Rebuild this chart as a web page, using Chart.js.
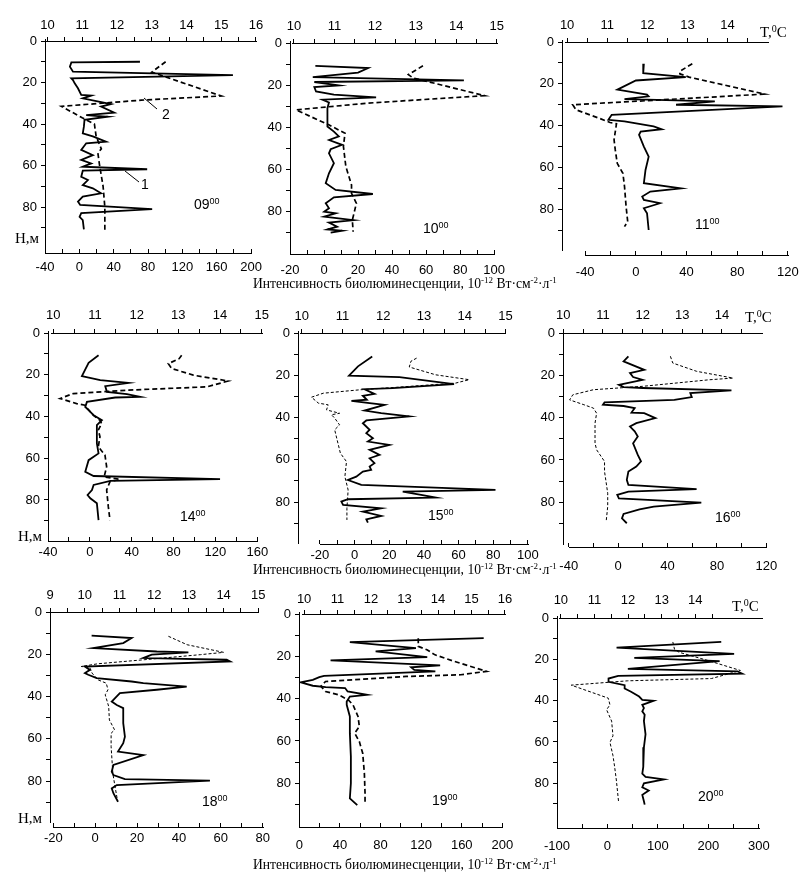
<!DOCTYPE html>
<html>
<head>
<meta charset="utf-8">
<script src="https://cdn.jsdelivr.net/npm/chart.js@4.4.1/dist/chart.umd.min.js"></script>
<style>
  body { margin: 0; background: #fff; }
  #page { position: relative; width: 808px; height: 877px; overflow: hidden; font-family: 'Liberation Sans', Arial, sans-serif; }
  canvas { position: absolute; }
  .t { position: absolute; white-space: nowrap; color: #000; line-height: 1; }
  .sans { font-family: 'Liberation Sans', Arial, sans-serif; }
  .serif { font-family: 'Liberation Serif', 'Times New Roman', serif; }
  .hour { font-size: 14px; }
  .hour sup { font-size: 9px; vertical-align: 5px; }
  .title { font-size: 13.6px; }
  .title sup { font-size: 9px; vertical-align: 5px; }
  .unit { font-size: 15px; }
  .unit sup { font-size: 10px; vertical-align: 5px; }
  svg { position: absolute; left: 0; top: 0; }
</style>
</head>
<body>
<div id="page"></div>
<script>
// Профили: пунктир — температура (верхняя ось), сплошная — биолюминесценция (нижняя ось)

// 09:00
const tempDepth09 = [10, 15, 26.5, 28.5, 31.5, 37, 40, 46, 52, 54, 60, 70, 80, 91];
const temp09 = [13.4, 13.0, 15.0, 12.7, 10.4, 11.0, 11.35, 11.4, 11.55, 11.45, 11.5, 11.6, 11.65, 11.65];
const bioDepth09 = [10, 10.3, 12.4, 14.8, 16.4, 18, 18.8, 20.4, 22.8, 26, 26.3, 27.6, 30.4, 31.6, 34.5, 35.7, 36.5, 38, 41.3, 44.5, 46, 48.5, 49.3, 52.5, 55, 57.3, 59, 60.6, 61.8, 62.5, 65.4, 67, 69.4, 71, 73.4, 75, 77.4, 79, 81, 83, 84.7, 86.3, 90.8];
const bio09 = [70.6, -9.3, -11, -7.4, 178.9, -9.3, -7.4, -5.4, -1.6, 2.2, 13.8, 4, 36.8, 25.3, 40.6, 8, 33, 6, 5.3, 4, 15.7, 31, 8, 2.2, 15.7, 2.2, 13.8, 4, 79, 4, 2.2, 10, 4, 15.7, 25.3, 4, -1.6, 1, 84.8, 2.2, 0.3, 4, 5.3];

// 10:00
const tempDepth10 = [10.8, 15, 16.6, 25, 28.5, 31.7, 38.8, 42.8, 49, 58.6, 67.3, 71.3, 76, 84, 89.5];
const temp10 = [13.18, 12.82, 12.94, 14.7, 11.82, 10.05, 10.86, 11.26, 11.22, 11.28, 11.42, 11.42, 11.54, 11.44, 11.46];
const bioDepth10 = [10.8, 11.9, 14, 16.2, 17.7, 18.5, 20.1, 20.9, 23, 24.5, 25.8, 26.9, 28.2, 30.9, 39.6, 42, 44.3, 46, 48.3, 50.4, 52.3, 57, 61.8, 66.5, 69.7, 71.6, 73.2, 76, 78.4, 80, 80.8, 82.3, 84, 85.2, 87.1, 88.4, 89, 89.9];
const bio10 = [-5.1, 25.9, 20, -6.6, 82.2, -5.7, 8.7, -5.7, -4.7, 5.8, 30.6, -0.9, 2.9, 2, 2, 5.8, 8.7, 3, 10.6, 3.9, 2.9, 5.8, 2.9, 1, 6.8, 28.7, 5.8, 1, 2.9, 0.1, 6.8, 0.1, 17.3, 2.9, 7.7, 2, 10.6, 3.9];

// 11:00
const tempDepth11 = [10.4, 14, 15.2, 16.8, 24.9, 26, 30, 32.4, 36.4, 38.5, 39.1, 46.8, 51.6, 58, 62.8, 69, 78.7, 85.9, 88.3];
const temp11 = [13.12, 12.81, 12.81, 13.04, 14.92, 13.92, 10.14, 10.22, 10.79, 11.07, 11.23, 11.17, 11.2, 11.25, 11.39, 11.43, 11.47, 11.51, 11.43];
const bioDepth11 = [10.4, 14.9, 16.8, 18.4, 22.8, 25.2, 26, 27.3, 27.6, 28.4, 30, 30.8, 34.8, 37.2, 38, 40.4, 41.7, 42.8, 44.4, 50, 54.8, 61.2, 67.5, 70, 71.5, 73.9, 75.5, 77.1, 79.5, 81.9, 89.9];
const bio11 = [6.3, 5.8, 39.4, 0, -14.6, 8.8, 10, -9, 8.8, 62.3, 31.7, 115.7, -19.1, -21.7, -9, 14, 20.3, 3.8, 2.5, 6.3, 10.1, 7.6, 6.3, 35.6, 11.4, 5, 6.3, 19, 6.3, 8.8, 10.1];

// 14:00
const tempDepth14 = [10.7, 12.3, 14.7, 17, 20.2, 23, 25.8, 27.4, 29, 31.4, 33.8, 34.6, 36.2, 39.4, 41.8, 43.4, 46.5, 49.7, 54.5, 58.5, 64.1, 68.9, 70.1, 71.2, 75.2, 83.2, 89.6];
const temp14 = [13.08, 13.02, 12.76, 12.84, 13.36, 14.2, 13.68, 11.76, 10.48, 10.16, 10.56, 10.76, 10.82, 10.96, 11.12, 11.16, 11.08, 11.12, 11.08, 11.24, 11.28, 11.22, 11.6, 11.36, 11.28, 11.32, 11.36];
const bioDepth14 = [10.7, 14.3, 20.7, 22.6, 23.9, 25.5, 28.2, 29.3, 30.6, 30.9, 33, 35.4, 37, 39.4, 41.8, 44.1, 52.9, 57.7, 60.9, 66.5, 68.5, 70, 70.8, 72.8, 75.2, 77.6, 79.2, 81.6, 89.6];
const bio14 = [8.3, -1.2, -7.6, 9.9, 37, 14.7, 16.3, 35.4, 48, 24.2, -2.8, -4.4, -1.2, 3.6, 11.5, 6.7, 6.7, 8.3, -1.2, -4.4, 3.6, 124.4, 19.5, 3.6, 2, -2.2, 0.4, 6.7, 8.3];

// 15:00
const tempDepth15 = [11.9, 13.4, 16.1, 19.8, 22.1, 23.7, 25.6, 26.9, 28.5, 30.4, 33.2, 34, 36.4, 38, 38.7, 40.3, 43.5, 45.8, 50.6, 56.9, 60.9, 68, 74.3, 83, 88.5];
const temp15 = [12.82, 12.68, 12.64, 13.29, 14.11, 13.78, 12.4, 11.42, 10.53, 10.24, 10.41, 10.65, 10.61, 10.93, 10.73, 10.81, 10.93, 10.81, 10.87, 10.95, 11.1, 11.06, 11.14, 11.11, 11.11];
const bioDepth15 = [11.1, 15.8, 20.2, 20.9, 24.2, 26.1, 26.6, 28.8, 29.7, 31.6, 32.1, 33.2, 34, 36.7, 37.9, 39.5, 41.4, 42.7, 45.8, 47.4, 49.8, 51.4, 53, 55.3, 57.7, 59.3, 61.6, 63.2, 64.8, 65.6, 68, 69.6, 71.9, 74.3, 75.1, 76.7, 77.9, 78.7, 79.8, 81.4, 83, 84.6, 86.6, 88.2, 89.8];
const bio15 = [10.2, 2, -3.2, 25.9, 57.4, 22, 5.8, 11.5, 4.8, 7.1, -1.8, 8.7, 17.3, 5.8, 15.4, 31.6, 6.8, 4.8, 8.7, 6.8, 10.6, 7.7, 20.1, 8.7, 14.4, 8.7, 11.5, 8.7, 9.6, 4.8, 1, -3.8, 3.9, 81.3, 27.8, 39.2, 46.9, -3.8, -7.6, -6.6, 15.4, 4.8, 15.4, 6.8, 7.7];

// 16:00
const tempDepth16 = [11, 14.2, 18.1, 21.3, 22.1, 25.2, 26.8, 29.2, 31.6, 33.9, 35.5, 37.9, 42.6, 52.1, 55.2, 60.7, 65.5, 75.7, 82, 89.2];
const temp16 = [12.7, 12.76, 13.36, 14.28, 13.68, 12, 10.76, 10.24, 10.16, 10.52, 10.76, 10.84, 10.8, 10.8, 10.84, 11.04, 11.04, 11.12, 11.12, 11.08];
const bioDepth16 = [11, 13.4, 17.4, 18.9, 20.8, 22.1, 24.5, 25.6, 26, 27.1, 28.4, 30.3, 31.6, 32.8, 33.9, 34.5, 35.5, 37.6, 37.9, 40.2, 42.6, 44.2, 46.5, 48.9, 52.1, 57.6, 60.7, 63.1, 65.5, 69.4, 71.8, 73.8, 75, 76.5, 78.1, 80.2, 82, 83.3, 85.5, 87.6, 89.9];
const bio16 = [8.3, 4.4, 21.1, 9.6, 12.1, 19.8, 0.6, 4.4, 19.8, 91.7, 58.4, 59.6, 45.5, -11, -12.3, 4.4, 13.4, 10.8, 21.1, 30.1, 14.7, 9.6, 13.4, 15.9, 12.1, 15.9, 18.5, 14.7, 8.3, 7, 8.3, 63.5, 8.3, -0.7, 0.6, 67.3, 28.8, 17.3, 4.4, 3.1, 7];

// 18:00
const tempDepth18 = [11.5, 15.5, 19.1, 20.2, 22.6, 24.5, 25.8, 26.1, 28.9, 32.1, 33.7, 36.8, 39.2, 44.7, 51.1, 55.8, 57.4, 63.7, 76.4, 81.4, 89.8];
const temp18 = [12.41, 12.95, 14, 13.33, 11.71, 10.38, 9.9, 10.14, 10.21, 10.38, 10.62, 10.67, 10.59, 10.69, 10.71, 10.86, 10.76, 10.76, 10.81, 10.86, 10.95];
const bioDepth18 = [11.2, 12.3, 14.7, 17.1, 18.7, 19.1, 20.2, 21.8, 22.6, 23.4, 25.8, 27.4, 28.9, 29.7, 31.3, 32.9, 33.7, 35.3, 36.8, 38.4, 40.8, 42.4, 44, 45.5, 52.6, 59, 62.1, 66.1, 67.7, 72.4, 75.6, 77.2, 79.1, 79.8, 81.9, 83.5, 85.8, 89.8];
const bio18 = [-1.7, 17.4, 13.4, -0.9, 29.4, 44.5, 27, 23, 62.8, 64.4, -4.9, -2.5, -4.9, -3.3, 0.7, 17.4, 23, 43.7, 29.4, 11.8, 9.5, 7.9, 10.3, 13.4, 13.4, 14.2, 13.4, 10.9, 23, 8.7, 7.9, 8.7, 14.2, 54.8, 10.3, 7.9, 8.7, 10.9];

// 19:00
const tempDepth19 = [11.4, 15.3, 16.9, 19.3, 22.4, 27.1, 28.7, 29.5, 31.9, 34.2, 36.6, 38.2, 40.6, 42.9, 48.4, 53.2, 56.3, 60.3, 65.8, 75.3, 84.7, 89.8];
const temp19 = [13.41, 13.41, 13.67, 13.91, 14.49, 15.45, 14.68, 13.05, 10.64, 10.5, 10.64, 11.03, 11.32, 11.46, 11.61, 11.65, 11.51, 11.65, 11.75, 11.8, 11.82, 11.82];
const bioDepth19 = [11.4, 13.3, 16.1, 17.7, 20.4, 21.9, 24.3, 25.2, 26.4, 27.1, 29.2, 29.8, 31.1, 32.3, 33.9, 34.6, 35, 36.6, 38.2, 39, 41.3, 42.9, 48.4, 56.3, 67.4, 80, 87.1, 90.3];
const bio19 = [181.6, 49.8, 114.9, 75.2, 126, 30.8, 138.7, 110.2, 113.3, 134, 24.4, 19.7, 13.3, 1.3, 13.3, 26, 45.1, 47.6, 66.7, 49.8, 46.7, 46.7, 49.8, 49.8, 50.8, 50.8, 49.8, 57.1];

// 20:00
const tempDepth20 = [11.6, 15.1, 16.6, 20.6, 25.4, 29.3, 30.4, 32.5, 38.8, 42, 44.4, 49.9, 57, 60.2, 66.6, 72.1, 78.4, 89.5];
const temp20 = [13.33, 13.38, 13.52, 14.38, 15.34, 14.48, 11.99, 10.31, 11.41, 11.46, 11.36, 11.51, 11.55, 11.46, 11.55, 11.6, 11.65, 11.72];
const bioDepth20 = [11.6, 14.3, 17.4, 19.3, 20.9, 24.6, 25.8, 26.9, 28, 29.3, 30.9, 32.5, 34.1, 35.7, 38, 39.6, 40.1, 42, 43.6, 45.2, 46.8, 49.9, 56.3, 62.6, 72.1, 75.3, 76.9, 78.1, 80, 81.9, 83.5, 85.6, 88.7, 90.3];
const bio20 = [225.4, 18, 250.9, 53.1, 222.2, 40.4, 257.3, 266.8, 21.2, 2.1, 2.1, 34, 34, 46.7, 62.7, 69, 91.4, 69, 72.2, 69, 73.7, 72.2, 75.4, 72.2, 70.9, 69, 75.4, 111.8, 72.2, 69, 81.8, 69, 72.2, 73.7];

const depthTicks = [0, 10, 20, 30, 40, 50, 60, 70, 80, 90];

// размещение панелей (пиксели страницы): рамка [L, R, T, B], калибровки осей [v1, px1, v2, px2],
// tTicks: [первое, последнее деление, последняя подпись], tLine: длина верхней оси в градусах,
// bTicks: [первое, последнее деление, шаг, шаг подписей]
const panels = [
  { hour: '09', temp: [tempDepth09, temp09], bio: [bioDepth09, bio09], frame: [45, 257, 41, 253], dCal: 207, tCal: [10, 47.5, 16, 256.7], bCal: [-40, 43.3, 200, 251.7], tTicks: [10, 16, 16], tLine: [9.95, 16], bTicks: [-40, 200, 20, 40], tPad: 3.4, bPad: 10.7, thin: false },
  { hour: '10', temp: [tempDepth10, temp10], bio: [bioDepth10, bio10], frame: [290, 502, 43, 254], dCal: 211.7, tCal: [10, 294, 15, 502.5], bCal: [-20, 290, 100, 499.3], tTicks: [10, 15, 15], tLine: [9.95, 15], bTicks: [-20, 100, 10, 20], tPad: 4.5, bPad: 12.7, thin: false },
  { hour: '11', temp: [tempDepth11, temp11], bio: [bioDepth11, bio11], frame: [562, 796, 42, 255], dCal: 209.3, tCal: [10, 567.3, 14, 733.3], bCal: [-40, 586, 120, 795.7], tTicks: [10, 14.5, 14], tLine: [9.95, 15], bTicks: [-40, 120, 20, 40], tPad: 4.5, bPad: 13.2, thin: false },
  { hour: '14', temp: [tempDepth14, temp14], bio: [bioDepth14, bio14], frame: [48, 262, 333, 541], dCal: 500, tCal: [10, 53.3, 14, 220], bCal: [-40, 47.7, 160, 257.3], tTicks: [10, 15, 15], tLine: [9.95, 15], bTicks: [-40, 160, 20, 40], tPad: 6.2, bPad: 7.5, thin: false },
  { hour: '15', temp: [tempDepth15, temp15], bio: [bioDepth15, bio15], frame: [298, 530, 333, 544], dCal: 502, tCal: [10, 301.7, 15, 506.7], bCal: [-20, 320, 100, 529.3], tTicks: [10, 15, 15], tLine: [9.95, 15], bTicks: [-20, 100, 10, 20], tPad: 5.2, bPad: 7.2, thin: true },
  { hour: '16', temp: [tempDepth16, temp16], bio: [bioDepth16, bio16], frame: [563, 777, 333, 547], dCal: 502.3, tCal: [10, 563.3, 14, 730], bCal: [-40, 569, 120, 776.7], tTicks: [10, 14.5, 14], tLine: [9.95, 15], bTicks: [-40, 120, 20, 40], tPad: 5.5, bPad: 15.7, thin: true },
  { hour: '18', temp: [tempDepth18, temp18], bio: [bioDepth18, bio18], frame: [50, 263, 612, 827], dCal: 781, tCal: [9, 48.3, 15, 258.3], bCal: [-20, 53.3, 80, 262.7], tTicks: [9, 15, 15], tLine: [8.95, 15], bTicks: [-20, 80, 10, 20], tPad: 5.2, bPad: 7.5, thin: true },
  { hour: '19', temp: [tempDepth19, temp19], bio: [bioDepth19, bio19], frame: [299, 512, 614, 827], dCal: 783.3, tCal: [10, 304.3, 16, 512.3], bCal: [0, 299.3, 200, 509.3], tTicks: [10, 16, 16], tLine: [9.95, 16], bTicks: [0, 200, 20, 40], tPad: 3.2, bPad: 14.5, thin: false },
  { hour: '20', temp: [tempDepth20, temp20], bio: [bioDepth20, bio20], frame: [557, 769, 618, 828], dCal: 783.3, tCal: [10, 561, 14, 700], bCal: [-100, 556.7, 300, 765.7], tTicks: [10, 14.5, 14], tLine: [9.95, 16], bTicks: [-100, 300, 50, 100], tPad: 5.5, bPad: 14.9, thin: true }
];

const PAD_L = 40, PAD_T = 34, PAD_B = 34, PAD_R = 16;
const TICK_FONT = { family: "'Liberation Sans', Arial, sans-serif", size: 13 };

Chart.defaults.color = '#000';

const page = document.getElementById('page');

function zip(depths, vals) {
  const n = Math.min(depths.length, vals.length);
  const pts = [];
  for (let i = 0; i < n; i++) pts.push({ x: vals[i], y: depths[i] });
  return pts;
}

function range(a, b, s) {
  const r = [];
  for (let v = a; v <= b + 1e-9; v += s) r.push(+v.toFixed(4));
  return r;
}

function valueAt(cal, px) {
  return cal[0] + (px - cal[1]) * (cal[2] - cal[0]) / (cal[3] - cal[1]);
}

// оси в оригинале — три отдельных отрезка разной длины, поэтому рисуем их сами по шкалам
const axisLines = {
  id: 'axisLines',
  afterDraw(chart, args, opts) {
    const { ctx, chartArea } = chart;
    const { y, xT, xB } = chart.scales;
    const a = v => Math.round(v) + 0.5;
    const xl = Math.max(chartArea.left, xT.getPixelForValue(opts.temp[0]));
    const xr = Math.min(chartArea.right, xT.getPixelForValue(opts.temp[1]));
    const yb = Math.min(chartArea.bottom, y.getPixelForValue(opts.depth[1]));
    ctx.save();
    ctx.strokeStyle = '#000';
    ctx.lineWidth = 1;
    ctx.beginPath();
    ctx.moveTo(a(chartArea.left), Math.round(chartArea.top) - 2);
    ctx.lineTo(a(chartArea.left), Math.round(yb));
    ctx.moveTo(Math.round(xl), a(chartArea.top));
    ctx.lineTo(Math.round(xr) + 1, a(chartArea.top));
    ctx.moveTo(Math.round(xB.getPixelForValue(opts.bio[0])), a(chartArea.bottom));
    ctx.lineTo(Math.round(xB.getPixelForValue(opts.bio[1])) + 1, a(chartArea.bottom));
    ctx.stroke();
    ctx.restore();
  }
};

function buildPanel(p) {
  const [L, R, T, B] = p.frame;
  const dMax = (B - T) * 80 / (p.dCal - T);

  const tVals = range(p.tTicks[0], p.tTicks[1], 0.5);
  const bVals = range(p.bTicks[0], p.bTicks[1], p.bTicks[2]);
  const tMin = Math.min(valueAt(p.tCal, L), tVals[0]);
  const tMax = Math.max(valueAt(p.tCal, R), tVals[tVals.length - 1]);
  const bMin = Math.min(valueAt(p.bCal, L), bVals[0]);
  const bMax = Math.max(valueAt(p.bCal, R), bVals[bVals.length - 1]);

  const cv = document.createElement('canvas');
  cv.width = R - L + PAD_L + PAD_R;
  cv.height = B - T + PAD_T + PAD_B;
  cv.style.left = (L - PAD_L) + 'px';
  cv.style.top = (T - PAD_T) + 'px';
  page.appendChild(cv);

  const axisGrid = len => ({ drawOnChartArea: false, tickLength: len, color: '#000', lineWidth: 1 });
  const noBorder = { display: false };

  new Chart(cv, {
    type: 'scatter',
    data: {
      datasets: [
        {
          data: zip(p.bio[0], p.bio[1]),
          xAxisID: 'xB', yAxisID: 'y',
          showLine: true, borderColor: '#000', borderWidth: 1.8,
          pointRadius: 0, tension: 0
        },
        {
          data: zip(p.temp[0], p.temp[1]),
          xAxisID: 'xT', yAxisID: 'y',
          showLine: true, borderColor: '#000',
          borderWidth: p.thin ? 1 : 1.7,
          borderDash: p.thin ? [3, 2] : [5, 3],
          pointRadius: 0, tension: 0
        }
      ]
    },
    options: {
      responsive: false,
      animation: false,
      devicePixelRatio: 1,
      layout: { padding: { left: 0, top: 0, bottom: 0, right: PAD_R } },
      plugins: {
        legend: { display: false },
        tooltip: { enabled: false },
        axisLines: { depth: [0, 100], temp: p.tLine, bio: [bVals[0], bVals[bVals.length - 1]] }
      },
      scales: {
        y: {
          type: 'linear', axis: 'y', position: 'left', reverse: true,
          min: 0, max: dMax,
          afterFit: s => { s.width = PAD_L; },
          afterBuildTicks: s => { s.ticks = depthTicks.map(v => ({ value: v })); },
          ticks: { font: TICK_FONT, padding: 4, autoSkip: false, callback: v => (v % 20 === 0 ? String(v) : '') },
          grid: axisGrid(4),
          border: noBorder
        },
        xT: {
          type: 'linear', axis: 'x', position: 'top',
          min: tMin, max: tMax,
          afterFit: s => { s.height = PAD_T; },
          afterBuildTicks: s => { s.ticks = tVals.map(v => ({ value: v })); },
          ticks: {
            font: TICK_FONT, padding: p.tPad, autoSkip: false, maxRotation: 0,
            callback: v => (Math.abs(v - Math.round(v)) < 1e-6 && v <= p.tTicks[2] ? String(Math.round(v)) : '')
          },
          grid: axisGrid(4),
          border: noBorder
        },
        xB: {
          type: 'linear', axis: 'x', position: 'bottom',
          min: bMin, max: bMax,
          afterFit: s => { s.height = PAD_B; },
          afterBuildTicks: s => { s.ticks = bVals.map(v => ({ value: v })); },
          ticks: {
            font: TICK_FONT, padding: p.bPad, autoSkip: false, maxRotation: 0,
            callback: v => ((Math.round(v - p.bTicks[0]) % p.bTicks[3]) === 0 ? String(v) : '')
          },
          grid: axisGrid(-4),
          border: noBorder
        }
      }
    },
    plugins: [axisLines]
  });
}

panels.forEach(buildPanel);

// подписи
function addText(html, cls, left, top) {
  const d = document.createElement('div');
  d.className = 't ' + cls;
  d.innerHTML = html;
  d.style.left = left + 'px';
  d.style.top = top + 'px';
  page.appendChild(d);
  return d;
}

const hourPos = [[194, 197], [423, 221], [695, 217], [180, 509], [428, 508], [715, 510], [202, 794], [432, 793], [698, 789]];
panels.forEach((p, i) => addText(p.hour + '<sup>00</sup>', 'sans hour', hourPos[i][0], hourPos[i][1]));

const titleText = 'Интенсивность биолюминесценции, 10<sup>-12</sup> Вт·см<sup>-2</sup>·л<sup>-1</sup>';
[276, 562, 857].forEach(y => addText(titleText, 'serif title', 253, y));

[[15, 231], [18, 529], [18, 811]].forEach(q => addText('Н,м', 'serif unit', q[0], q[1]));
[[760, 24], [745, 309], [732, 598]].forEach(q => addText('T,<sup>0</sup>C', 'serif unit', q[0], q[1]));

addText('1', 'sans hour', 141, 177);
addText('2', 'sans hour', 162, 107);

const svgNS = 'http://www.w3.org/2000/svg';
const svg = document.createElementNS(svgNS, 'svg');
svg.setAttribute('width', 808);
svg.setAttribute('height', 877);
[[125, 171, 139, 182], [144, 98, 157, 109]].forEach(l => {
  const ln = document.createElementNS(svgNS, 'line');
  ln.setAttribute('x1', l[0]); ln.setAttribute('y1', l[1]);
  ln.setAttribute('x2', l[2]); ln.setAttribute('y2', l[3]);
  ln.setAttribute('stroke', '#000'); ln.setAttribute('stroke-width', '1');
  svg.appendChild(ln);
});
page.appendChild(svg);
</script>
</body>
</html>
